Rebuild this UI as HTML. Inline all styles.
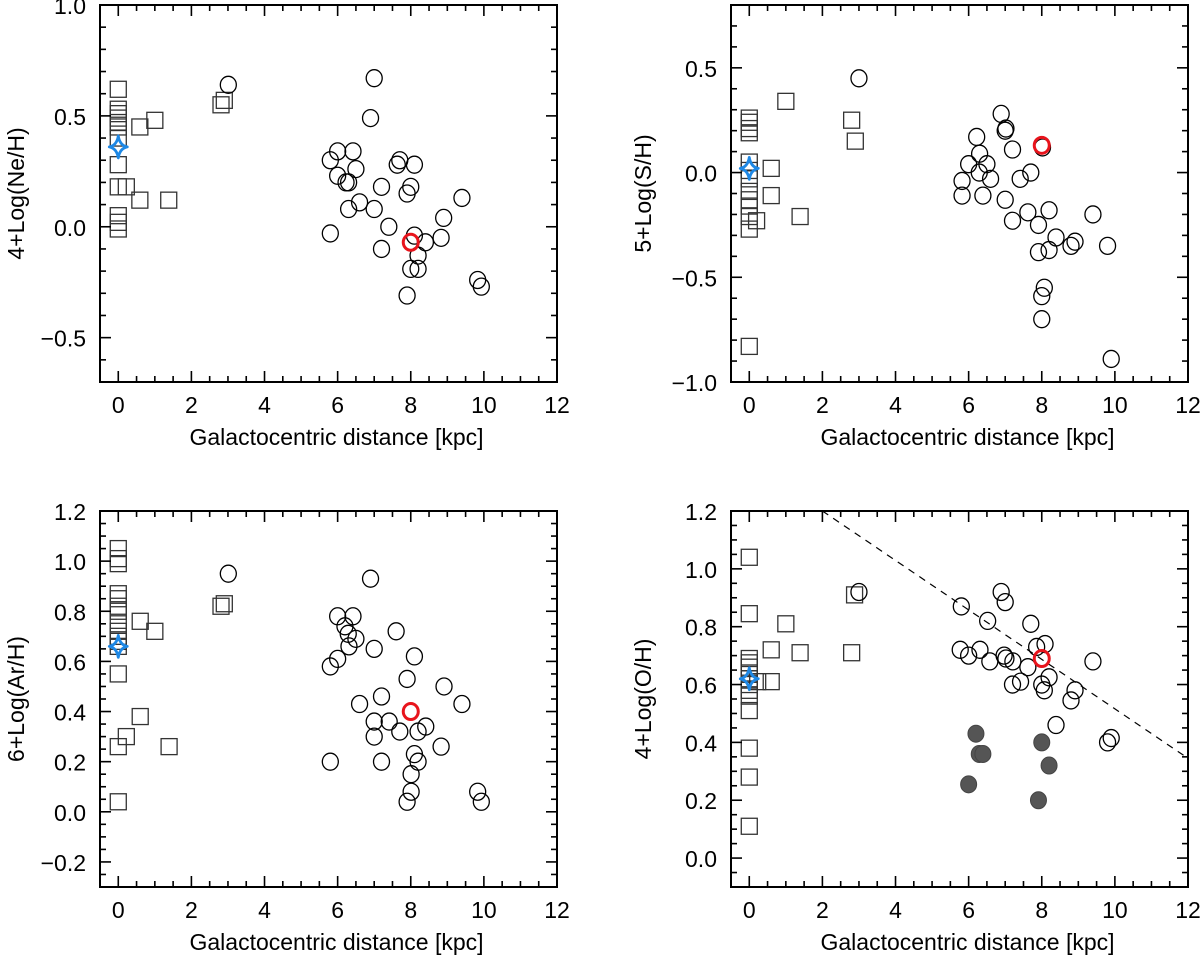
<!DOCTYPE html>
<html><head><meta charset="utf-8"><style>
html,body{margin:0;padding:0;background:#fff;}
svg{display:block;font-family:"Liberation Sans",sans-serif;}
</style></head><body>
<svg id="fig" width="1200" height="956" viewBox="0 0 1200 956" xmlns="http://www.w3.org/2000/svg"></svg>
<script>
// ---- Panel 1: Ne/H ----
const neSqX=[0,0,0,0,0,0,0,0,0,0,0,0,0.22,0.59,1.0,0.59,1.38,2.81,2.9];
const neSqY=[0.62,0.53,0.51,0.49,0.47,0.45,0.40,0.28,0.18,0.05,0.02,-0.01,0.18,0.45,0.48,0.12,0.12,0.55,0.57];
const neCiX=[3.01,7.0,6.9,5.8,6.0,6.42,6.0,6.23,6.3,6.5,6.6,6.3,7.0,7.2,7.63,7.7,8.1,8.0,7.9,7.4,5.8,7.2,8.1,8.4,8.2,8.0,8.2,7.9,8.83,8.9,9.4,9.83,9.93];
const neCiY=[0.64,0.67,0.49,0.30,0.34,0.34,0.23,0.20,0.20,0.26,0.11,0.08,0.08,0.18,0.28,0.30,0.28,0.18,0.15,0.0,-0.03,-0.10,-0.04,-0.07,-0.13,-0.19,-0.19,-0.31,-0.05,0.04,0.13,-0.24,-0.27];
const neRed=[8.0,-0.07];
const neStar=[0,0.36];
// ---- Panel 2: S/H ----
const sSqX=[0,0,0,0,0,0,0,0,0,0,0,0,0,0.2,0.6,0.6,1.0,1.39,2.8,2.9];
const sSqY=[0.26,0.24,0.21,0.19,0.05,0.01,-0.03,-0.09,-0.13,-0.16,-0.21,-0.27,-0.83,-0.23,0.02,-0.11,0.34,-0.21,0.25,0.15];
const sCiX=[3.0,6.89,7.0,7.02,6.22,7.2,8.02,6.0,6.3,6.5,6.29,6.6,5.82,5.82,6.39,7.41,7.7,7.0,7.2,7.62,7.91,8.2,8.39,7.91,8.2,8.8,8.91,9.4,9.8,8.07,8.0,8.0,9.9];
const sCiY=[0.45,0.28,0.20,0.21,0.17,0.11,0.12,0.04,0.09,0.04,0.0,-0.03,-0.04,-0.11,-0.11,-0.03,0.0,-0.13,-0.23,-0.19,-0.25,-0.18,-0.31,-0.38,-0.37,-0.35,-0.33,-0.20,-0.35,-0.55,-0.59,-0.70,-0.89];
const sRed=[8.0,0.13];
const sStar=[0,0.02];
// ---- Panel 3: Ar/H ----
const arSqX=[0,0,0,0,0,0,0,0,0,0,0,0,0,0,0,0.22,0.6,0.6,1.0,1.39,2.81,2.9];
const arSqY=[1.05,1.01,0.99,0.87,0.85,0.82,0.80,0.75,0.72,0.70,0.68,0.66,0.55,0.26,0.04,0.30,0.38,0.76,0.72,0.26,0.82,0.83];
const arCiX=[3.01,6.9,6.0,6.42,6.2,6.29,6.5,6.31,6.0,5.8,7.0,7.6,8.1,7.9,8.91,9.4,6.6,7.2,7.0,7.41,7.0,7.7,8.2,8.41,8.83,5.8,7.2,8.1,8.2,8.01,8.01,7.9,9.83,9.93];
const arCiY=[0.95,0.93,0.78,0.78,0.74,0.71,0.69,0.66,0.61,0.58,0.65,0.72,0.62,0.53,0.50,0.43,0.43,0.46,0.36,0.36,0.30,0.32,0.32,0.34,0.26,0.20,0.20,0.23,0.20,0.15,0.08,0.04,0.08,0.04];
const arRed=[8.0,0.40];
const arStar=[0,0.66];
// ---- Panel 4: O/H ----
const oSqX=[0,0,0,0,0,0,0,0,0,0,0,0,0,0,0.23,0.6,0.6,1.0,1.39,2.8,2.88];
const oSqY=[1.04,0.845,0.69,0.675,0.66,0.64,0.62,0.60,0.58,0.56,0.51,0.38,0.28,0.11,0.61,0.72,0.61,0.81,0.71,0.71,0.91];
const oCiX=[3.0,5.8,6.89,7.0,6.52,7.7,5.77,6.0,6.31,6.58,6.97,7.02,7.21,7.62,7.86,8.09,7.2,7.42,8.0,8.07,8.2,8.8,8.91,9.4,8.39,9.8,9.9];
const oCiY=[0.92,0.87,0.92,0.885,0.82,0.81,0.72,0.70,0.72,0.68,0.70,0.69,0.68,0.66,0.73,0.74,0.60,0.61,0.60,0.58,0.625,0.545,0.58,0.68,0.46,0.40,0.415];
const oFillX=[6.2,6.29,6.39,6.0,8.0,8.2,7.91];
const oFillY=[0.43,0.36,0.36,0.255,0.40,0.32,0.20];
const oRed=[8.0,0.69];
const oStar=[0,0.62];
const oLineX=[2.0,12.0];
const oLineY=[1.2,0.345];

const NS="http://www.w3.org/2000/svg";
const svg=document.getElementById('fig');
function mk(tag,attrs,parent){const e=document.createElementNS(NS,tag);for(const k in attrs)e.setAttribute(k,attrs[k]);(parent||svg).appendChild(e);return e;}

const panels=[
 {name:'ne',L:100,T:5,W:457,H:377,ymin:-0.7,ymax:1.0,major:0.5,minor:0.1,dec:1,label:'4+Log(Ne/H)',sqX:neSqX,sqY:neSqY,ciX:neCiX,ciY:neCiY,red:neRed,star:neStar},
 {name:'s',L:731,T:5,W:457,H:377,ymin:-1.0,ymax:0.8,major:0.5,minor:0.1,dec:1,label:'5+Log(S/H)',sqX:sSqX,sqY:sSqY,ciX:sCiX,ciY:sCiY,red:sRed,star:sStar},
 {name:'ar',L:100,T:511,W:457,H:376,ymin:-0.3,ymax:1.2,major:0.2,minor:0.05,dec:1,label:'6+Log(Ar/H)',sqX:arSqX,sqY:arSqY,ciX:arCiX,ciY:arCiY,red:arRed,star:arStar},
 {name:'o',L:731,T:511,W:457,H:376,ymin:-0.1,ymax:1.2,major:0.2,minor:0.05,dec:1,label:'4+Log(O/H)',sqX:oSqX,sqY:oSqY,ciX:oCiX,ciY:oCiY,red:oRed,star:oStar,fillX:oFillX,fillY:oFillY,lineX:oLineX,lineY:oLineY}
];
const xmin=-0.5,xmax=12;

panels.forEach(p=>{
 const g=mk('g',{});
 
 
 const sx=v=>p.L+(v-xmin)/(xmax-xmin)*p.W;
 const sy=v=>p.T+(p.ymax-v)/(p.ymax-p.ymin)*p.H;
 const B=p.T+p.H,R=p.L+p.W;
 const cid='clip-'+p.name;
 const cp=mk('clipPath',{id:cid},g);mk('rect',{x:p.L,y:p.T,width:p.W,height:p.H},cp);
 const marks=mk('g',{'clip-path':'url(#'+cid+')'},g);
 if(p.lineX){
  const l=mk('line',{x1:sx(p.lineX[0]),y1:sy(p.lineY[0]),x2:sx(p.lineX[1]),y2:sy(p.lineY[1]),stroke:'#000','stroke-width':1.2,'stroke-dasharray':'7,6'},marks);
  
  
 }
 p.sqX.forEach((x,i)=>{
  const r=mk('rect',{x:sx(x)-8,y:sy(p.sqY[i])-8,width:16,height:16,fill:'none',stroke:'#333','stroke-width':1.3},marks);
  
  
 });
 p.ciX.forEach((x,i)=>{
  const c=mk('ellipse',{cx:sx(x),cy:sy(p.ciY[i]),rx:8,ry:8.5,fill:'none',stroke:'#000','stroke-width':1.3},marks);
  
  
 });
 if(p.fillX){p.fillX.forEach((x,i)=>{
  const c=mk('ellipse',{cx:sx(x),cy:sy(p.fillY[i]),rx:8,ry:8.5,fill:'#555',stroke:'#444','stroke-width':1},marks);
  
  
 });}
 const rc=mk('ellipse',{cx:sx(p.red[0]),cy:sy(p.red[1]),rx:7.5,ry:8,fill:'none',stroke:'#e8141c','stroke-width':3},marks);
 
 
 const cx=sx(p.star[0]),cy=sy(p.star[1]);
 const st=mk('path',{d:`M${cx} ${cy-11} Q${cx+1.5} ${cy-1.5} ${cx+9} ${cy} Q${cx+1.5} ${cy+1.5} ${cx} ${cy+11} Q${cx-1.5} ${cy+1.5} ${cx-9} ${cy} Q${cx-1.5} ${cy-1.5} ${cx} ${cy-11}Z`,fill:'none',stroke:'#1e88e5','stroke-width':2.8,'stroke-linejoin':'round'},marks);
 
 
 const tk=mk('g',{stroke:'#000','stroke-width':1.6},g);
 for(let v=xmin;v<=xmax+1e-6;v+=0.5){
  const isMaj=Math.abs(v/2-Math.round(v/2))<1e-6;const len=isMaj?11:6;const X=sx(v);
  mk('line',{x1:X,y1:B,x2:X,y2:B-len},tk);mk('line',{x1:X,y1:p.T,x2:X,y2:p.T+len},tk);
  if(isMaj){const t=mk('text',{x:X,y:B+31,'text-anchor':'middle','font-size':23,fill:'#000',stroke:'none'},g);t.textContent=String(Math.round(v));
   }
 }
 const nMin=Math.ceil(p.ymin/p.minor-1e-6),nMax=Math.floor(p.ymax/p.minor+1e-6);
 for(let n=nMin;n<=nMax;n++){
  const v=n*p.minor;const r=v/p.major;const isMaj=Math.abs(r-Math.round(r))<1e-6;const len=isMaj?11:6;const Y=sy(v);
  mk('line',{x1:p.L,y1:Y,x2:p.L+len,y2:Y},tk);mk('line',{x1:R,y1:Y,x2:R-len,y2:Y},tk);
  if(isMaj){const t=mk('text',{x:p.L-14,y:Y+9,'text-anchor':'end','font-size':23,fill:'#000',stroke:'none'},g);
   t.textContent=(v<-1e-9?'\u2212':'')+Math.abs(v).toFixed(p.dec);
   }
 }
 const fr=mk('rect',{x:p.L,y:p.T,width:p.W,height:p.H,fill:'none',stroke:'#000','stroke-width':2},g);
 
 const xl=mk('text',{x:p.L+p.W/2+8,y:B+63,'text-anchor':'middle','font-size':23,fill:'#000'},g);
 xl.textContent='Galactocentric distance [kpc]';
 
 const yx=p.L-(p.name==='ne'||p.name==='ar'?76:80),yy=p.T+p.H/2;
 const yl=mk('text',{x:yx,y:yy,'text-anchor':'middle','font-size':23,fill:'#000',transform:`rotate(-90 ${yx} ${yy})`},g);
 yl.textContent=p.label;
 
});
</script>
</body></html>
